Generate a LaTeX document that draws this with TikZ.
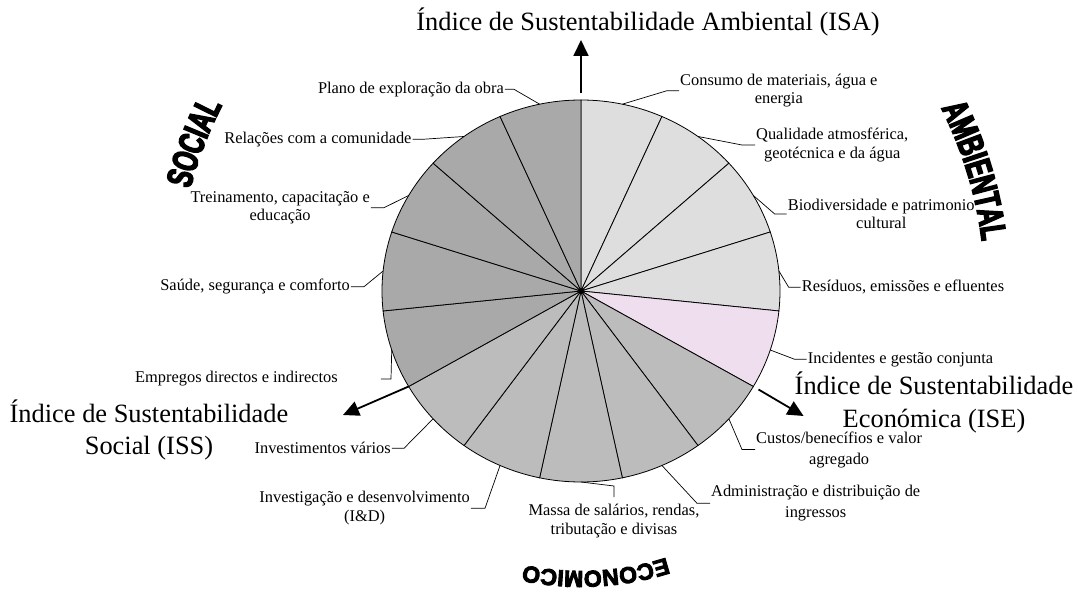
\documentclass[tikz,border=0pt]{standalone}
\usepackage{fontspec}
\setmainfont{Liberation Serif}
\newfontfamily\artfont[FakeStretch=0.66,FakeBold=4]{Liberation Sans}
\newfontfamily\ecofont[FakeBold=4]{Liberation Sans}
\usepackage{tikz}
\usetikzlibrary{arrows.meta,decorations.text}

\definecolor{ambgray}{RGB}{222,222,222}
\definecolor{incpink}{RGB}{238,222,238}
\definecolor{ecogray}{RGB}{188,188,188}
\definecolor{socgray}{RGB}{169,169,169}

\tikzset{
  pie/.style={x radius=199, y radius=191},
  slice/.style={draw=black, line width=0.8pt},
  lbl/.style={font=\fontsize{16.4}{18.6}\selectfont, align=center, inner sep=1pt},
  lblwide/.style={lbl, font=\fontsize{16.4}{21}\selectfont},
  idx/.style={font=\fontsize{26.4}{32.7}\selectfont, align=center, inner sep=0pt},
  leader/.style={line width=0.7pt},
  idxarrow/.style={line width=1.8pt, -{Triangle[length=16pt,width=15pt]}},
}

\begin{document}
\begin{tikzpicture}[x=1pt,y=1pt]
    % \draw[help lines] (-581,-303) grid (497,291);
    \useasboundingbox (-581,-303) rectangle (497,291);

    % ambiental
    \filldraw[slice, fill=ambgray] (0,0) -- (90:199 and 191) arc[pie, start angle=90, end angle=66] -- cycle;
    \filldraw[slice, fill=ambgray] (0,0) -- (66:199 and 191) arc[pie, start angle=66, end angle=42] -- cycle;
    \filldraw[slice, fill=ambgray] (0,0) -- (42:199 and 191) arc[pie, start angle=42, end angle=18] -- cycle;
    \filldraw[slice, fill=ambgray] (0,0) -- (18:199 and 191) arc[pie, start angle=18, end angle=-6] -- cycle;
    \filldraw[slice, fill=incpink] (0,0) -- (-6:199 and 191) arc[pie, start angle=-6, end angle=-30] -- cycle;
    % economico
    \filldraw[slice, fill=ecogray] (0,0) -- (-30:199 and 191) arc[pie, start angle=-30, end angle=-54] -- cycle;
    \filldraw[slice, fill=ecogray] (0,0) -- (-54:199 and 191) arc[pie, start angle=-54, end angle=-78] -- cycle;
    \filldraw[slice, fill=ecogray] (0,0) -- (-78:199 and 191) arc[pie, start angle=-78, end angle=-102] -- cycle;
    \filldraw[slice, fill=ecogray] (0,0) -- (-102:199 and 191) arc[pie, start angle=-102, end angle=-126] -- cycle;
    \filldraw[slice, fill=ecogray] (0,0) -- (-126:199 and 191) arc[pie, start angle=-126, end angle=-150] -- cycle;
    % social
    \filldraw[slice, fill=socgray] (0,0) -- (-150:199 and 191) arc[pie, start angle=-150, end angle=-174] -- cycle;
    \filldraw[slice, fill=socgray] (0,0) -- (-174:199 and 191) arc[pie, start angle=-174, end angle=-198] -- cycle;
    \filldraw[slice, fill=socgray] (0,0) -- (-198:199 and 191) arc[pie, start angle=-198, end angle=-222] -- cycle;
    \filldraw[slice, fill=socgray] (0,0) -- (-222:199 and 191) arc[pie, start angle=-222, end angle=-246] -- cycle;
    \filldraw[slice, fill=socgray] (0,0) -- (-246:199 and 191) arc[pie, start angle=-246, end angle=-270] -- cycle;
    \fill (0,0) circle [radius=2.5];

    % edge points
    \coordinate (e1) at (78:199 and 191);
    \coordinate (e2) at (54:199 and 191);
    \coordinate (e3) at (30:199 and 191);
    \coordinate (e4) at (6:199 and 191);
    \coordinate (e5) at (-18:199 and 191);
    \coordinate (e6) at (-42:199 and 191);
    \coordinate (e7) at (-66:199 and 191);
    \coordinate (e8) at (-90:199 and 191);
    \coordinate (e9) at (-114:199 and 191);
    \coordinate (e10) at (-138:199 and 191);
    \coordinate (e11) at (-162:199 and 191);
    \coordinate (e12) at (-186:199 and 191);
    \coordinate (e13) at (-210:199 and 191);
    \coordinate (e14) at (-234:199 and 191);
    \coordinate (e15) at (-258:199 and 191);

    % labels
    \node[lbl, anchor=west] (l1) at (98,200.3) {Consumo de materiais, água e\\energia};
    \node[lbl, anchor=west] (l2) at (174,146) {Qualidade atmosférica,\\geotécnica e da água};
    \node[lbl, anchor=west] (l3) at (205.7,77) {Biodiversidade e patrimonio\\cultural};
    \node[lbl, anchor=west] (l4) at (219.7,3.7) {Resíduos, emissões e efluentes};
    \node[lbl, anchor=west] (l5) at (225.7,-68.3) {Incidentes e gestão conjunta};
    \node[lblwide, anchor=west] (l6) at (174,-158.5) {Custos/benecífios e valor\\agregado};
    \node[lblwide, anchor=west] (l7) at (129,-212.3) {Administração e distribuição de\\ingressos};
    \node[lbl, anchor=north] (l8) at (33,-212) {Massa de salários, rendas,\\tributação e divisas};
    \node[lbl, anchor=east] (l9) at (-110,-217.3) {Investigação e desenvolvimento\\(I\&D)};
    \node[lbl, anchor=east] (l10) at (-189,-157.3) {Investimentos vários};
    \node[lbl, anchor=east] (l11) at (-242,-88) {Empregos directos e indirectos};
    \node[lbl, anchor=east] (l12) at (-230,4.3) {Saúde, segurança e comforto};
    \node[lbl, anchor=east] (l13) at (-210,83.3) {Treinamento, capacitação e\\educação};
    \node[lbl, anchor=east] (l14) at (-168.3,151.7) {Relações com a comunidade};
    \node[lbl, anchor=east] (l15) at (-76,201.7) {Plano de exploração da obra};

    % leaders
    \draw[leader] (e1) -- ([xshift=-12pt]l1.west) -- (l1.west);
    \draw[leader] (e2) -- ([xshift=-13pt]l2.west) -- (l2.west);
    \draw[leader] (e3) -- ([xshift=-12pt]l3.west) -- (l3.west);
    \draw[leader] (e4) -- ([xshift=-12pt]l4.west) -- (l4.west);
    \draw[leader] (e5) -- ([xshift=-12pt]l5.west) -- (l5.west);
    \draw[leader] (e6) -- ([xshift=-13pt]l6.west) -- (l6.west);
    \draw[leader] (e7) -- ([xshift=-13pt]l7.west) -- (l7.west);
    \draw[leader] (e8) -- ([yshift=17pt]l8.north) -- ([yshift=6pt]l8.north);
    \draw[leader] (e9) -- ([xshift=14pt]l9.east) -- (l9.east);
    \draw[leader] (e10) -- ([xshift=12pt]l10.east) -- (l10.east);
    \draw[leader] (e11) -- ([xshift=52pt]l11.east) -- ([xshift=42pt]l11.east);
    \draw[leader] (e12) -- ([xshift=13pt]l12.east) -- (l12.east);
    \draw[leader] (e13) -- ([xshift=13pt]l13.east) -- (l13.east);
    \draw[leader] (e14) -- ([xshift=10pt]l14.east) -- (l14.east);
    \draw[leader] (e15) -- ([xshift=9pt]l15.east) -- (l15.east);

    % indices
    \node[idx] (isa) at (67,269) {Índice de Sustentabilidade Ambiental (ISA)};
    \node[idx] (ise) at (353,-111.5) {Índice de Sustentabilidade\\Económica (ISE)};
    \node[idx] (iss) at (-432,-139) {Índice de Sustentabilidade\\Social (ISS)};
    \coordinate (isafoot) at (90:205 and 198);
    \coordinate (isatip) at (0,251);
    \coordinate (isefoot) at (-30:205 and 197);
    \coordinate (isetip) at (-30:257 and 250);
    \coordinate (issfoot) at (-150:199 and 191);
    \coordinate (isstip) at (-238,-124);
    \draw[idxarrow] (isafoot) -- (isatip);
    \draw[idxarrow] (isefoot) -- (isetip);
    \draw[idxarrow] (issfoot) -- (isstip);

    % word art
    \path[decorate, decoration={text along path, text align=center,
        text={|\artfont\bfseries\fontsize{36}{36}\selectfont|SOCIAL}}]
        (168:404) arc[start angle=168, end angle=150, radius=404];
    \path[decorate, decoration={text along path, text align=center,
        text={|\artfont\bfseries\fontsize{36}{36}\selectfont|AMBIENTAL}}]
        (32:404) arc[start angle=32, end angle=2, radius=404];
    \path[decorate, decoration={text along path, text align=center,
        text={|\ecofont\bfseries\fontsize{23}{23}\selectfont|ECONOMICO}}]
        (-57:280) arc[start angle=-57, end angle=-117, radius=280];
\end{tikzpicture}
\end{document}
